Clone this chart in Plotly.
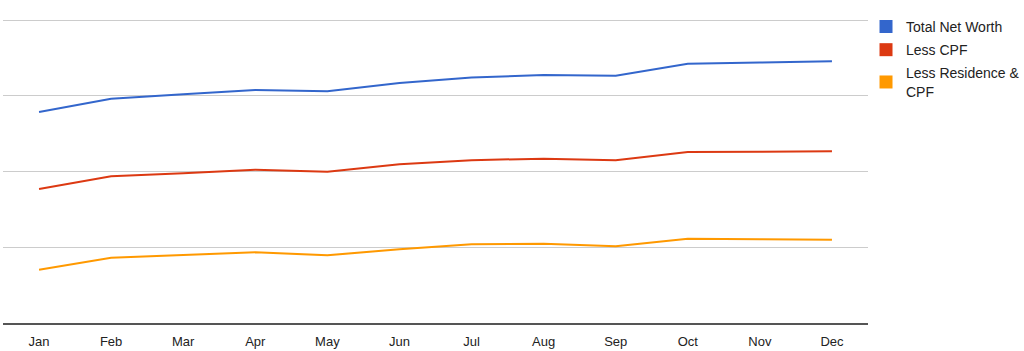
import plotly.graph_objects as go

months = ["Jan", "Feb", "Mar", "Apr", "May", "Jun", "Jul", "Aug", "Sep", "Oct", "Nov", "Dec"]
total_net_worth = [278.5, 296, 302, 307.6, 306, 317, 324, 327.4, 326.5, 342.3, 344, 345.5]
less_cpf = [177, 193.6, 197.6, 202.4, 199.7, 209.5, 215, 217, 215, 225.7, 226, 226.7]
less_residence_cpf = [70.4, 86.2, 89.8, 93.3, 89.4, 97.3, 103.9, 104.7, 101.3, 111.3, 110.5, 110]

series_names = ["Total Net Worth", "Less CPF", "Less Residence &<br>CPF"]
colors = ["#3366cc", "#dc3912", "#ff9900"]
series_values = [total_net_worth, less_cpf, less_residence_cpf]

fig = go.Figure()
for name, vals, col in zip(series_names, series_values, colors):
    fig.add_trace(go.Scatter(x=months, y=vals, mode="lines", name=name,
                             line=dict(color=col, width=2), showlegend=False,
                             hoverinfo="x+y"))
for i, (name, col) in enumerate(zip(series_names, colors)):
    fig.add_trace(go.Scatter(x=[None], y=[None], mode="markers", name=name,
                             legendgroup=f"g{i}",
                             marker=dict(symbol="square", size=13, color=col)))

fig.update_layout(
    width=1024, height=351,
    margin=dict(l=3, r=156, t=17, b=28, autoexpand=False),
    paper_bgcolor="white", plot_bgcolor="white",
    font=dict(family="Arial, Liberation Sans, sans-serif", size=13, color="#222222"),
    xaxis=dict(type="category", categoryorder="array", categoryarray=months,
               range=[-0.5, 11.5], showgrid=False, showline=True,
               linecolor="#555555", linewidth=1.5, ticks="", ticklabelstandoff=6,
               tickfont=dict(size=13, color="#222222"), fixedrange=True),
    yaxis=dict(range=[0, 404], tickvals=[0, 100, 200, 300, 400], showgrid=True,
               gridcolor="#cccccc", gridwidth=1, zeroline=False,
               showticklabels=False, ticks="", fixedrange=True),
    legend=dict(x=0.9977, y=1.02, xanchor="left", yanchor="top",
                font=dict(size=14, color="#222222"), tracegroupgap=2,
                itemwidth=30, bgcolor="rgba(0,0,0,0)"),
    showlegend=True,
)

fig.write_html("out.html")
